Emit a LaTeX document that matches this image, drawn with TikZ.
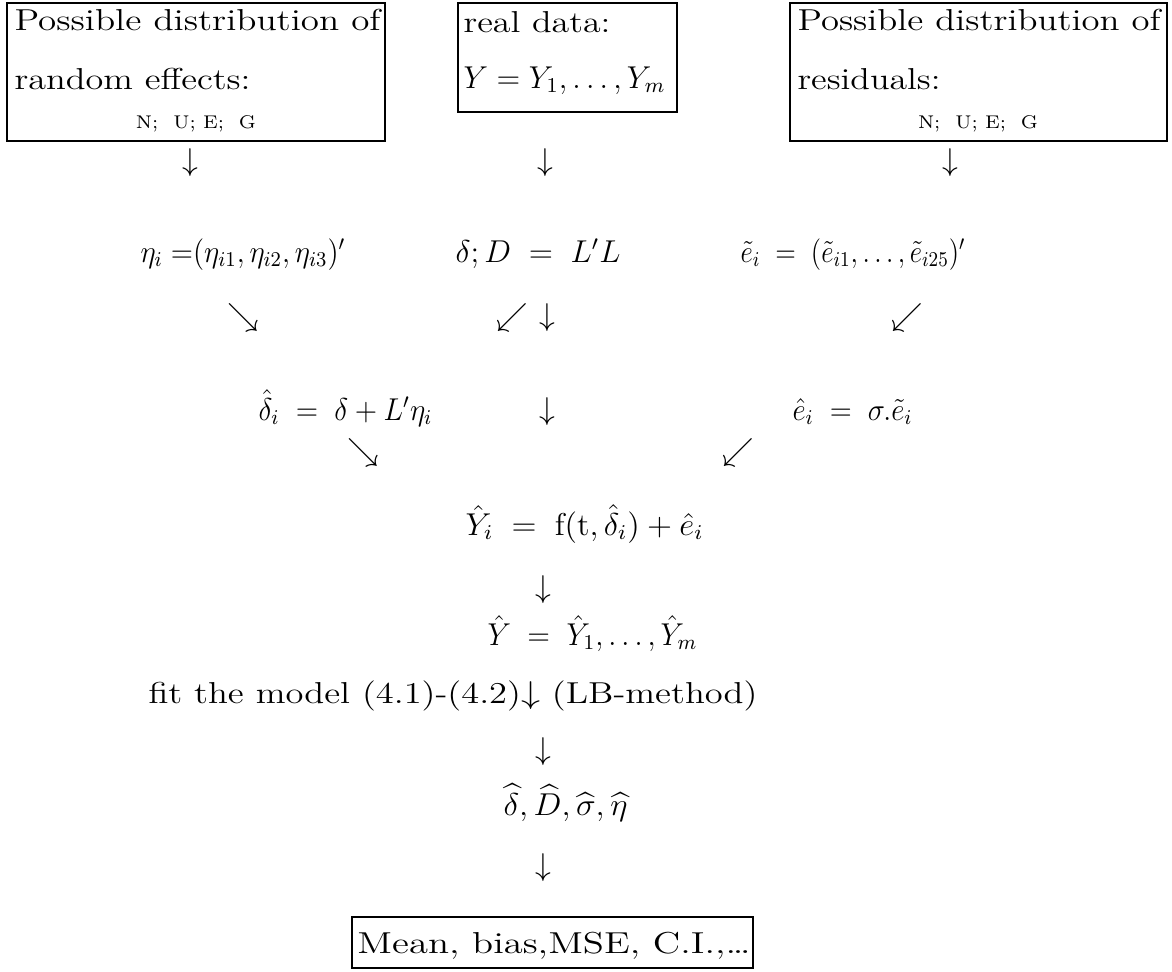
\documentclass[tikz,border=0pt]{standalone}
\usepackage{amsmath}
\usepackage{graphicx}
\newlength\pxu
\setlength\pxu{0.38pt}
\newcommand\rs[2]{\resizebox{#1\pxu}{\height}{#2}}
\begin{document}
\begin{tikzpicture}[x=0.38pt,y=-0.38pt,
  box/.style={draw,line width=0.6pt,inner sep=0pt},
  txt/.style={inner sep=0pt,anchor=base west,font=\fontsize{11.5}{13}\selectfont},
  ctxt/.style={inner sep=0pt,anchor=base,font=\fontsize{11.5}{13}\selectfont},
  small/.style={inner sep=0pt,anchor=base,font=\fontsize{7}{8}\selectfont},
  arr/.style={inner sep=0pt,anchor=center,font=\fontsize{12}{14}\selectfont}]
\useasboundingbox (0,0) rectangle (1172,971);
% boxes
\node[box,minimum width=378\pxu,minimum height=138\pxu] (b1) at (196,72) {};
\node[box,minimum width=219\pxu,minimum height=109\pxu] (b2) at (567.5,57.5) {};
\node[box,minimum width=377\pxu,minimum height=138\pxu] (b3) at (978.5,72) {};
\node[box,minimum width=401\pxu,minimum height=51\pxu] (b4) at (552.5,942.5) {};
% box texts
\node[txt] (t1a) at (14,30) {\rs{366}{Possible distribution of}};
\node[txt] (t1b) at (14,89) {\rs{236}{random effects:}};
\node[small] (t1c) at (196,128) {\rs{120}{N;\ \ U;\ E;\ \ G}};
\node[txt] (t2a) at (463,32) {\rs{147}{real data:}};
\node[txt] (t2b) at (463,88) {\rs{202}{$Y=Y_{1},\ldots,Y_{m}$}};
\node[txt] (t3a) at (797,30) {\rs{363}{Possible distribution of}};
\node[txt] (t3b) at (797,89) {\rs{143}{residuals:}};
\node[small] (t3c) at (978,128) {\rs{120}{N;\ \ U;\ E;\ \ G}};
% row 1 arrows
\node[arr] (a1) at (190,163) {$\downarrow$};
\node[arr] (a2) at (545,163) {$\downarrow$};
\node[arr] (a3) at (950,163) {$\downarrow$};
% row 2
\node[txt] (eta) at (140,262) {\rs{205}{$\eta_{i}\;{=}(\eta_{i1},\eta_{i2},\eta_{i3})^{\prime}$}};
\node[txt] (dD) at (455,262) {\rs{165}{$\delta;D\;=\;L'L$}};
\node[txt] (et) at (740,262) {\rs{225}{$\tilde{e}_{i}\;=\;(\tilde{e}_{i1},\ldots,\tilde{e}_{i25})^{\prime}$}};
% row 3 arrows
\node[arr] (a4) at (243,318) {$\searrow$};
\node[arr] (a5) at (512,318) {$\swarrow$};
\node[arr] (a6) at (547,318) {$\downarrow$};
\node[arr] (a7) at (907,318) {$\swarrow$};
% row 4
\node[txt] (dh) at (258,420) {\rs{174}{$\hat{\delta}_{i}\;=\;\delta+L'\eta_{i}$}};
\node[arr] (a8) at (547,412) {$\downarrow$};
\node[txt] (eh) at (792,420) {\rs{120}{$\hat{e}_{i}\;=\;\sigma.\tilde{e}_{i}$}};
% row 5 arrows
\node[arr] (a9) at (363,453) {$\searrow$};
\node[arr] (a10) at (738,453) {$\swarrow$};
% row 6
\node[txt] (Yi) at (465,535) {\rs{238}{$\hat{Y}_{i}\;=\;\mathrm{f}(\mathrm{t},\hat{\delta}_{i})+\hat{e}_{i}$}};
\node[arr] (a11) at (543,590) {$\downarrow$};
\node[txt] (Y) at (487,645) {\rs{210}{$\hat{Y}\;=\;\hat{Y}_{1},\ldots,\hat{Y}_{m}$}};
\node[txt] (fit) at (148,703) {\rs{609}{fit the model (4.1)-(4.2)$\downarrow$ (LB-method)}};
\node[arr] (a12) at (543,752) {$\downarrow$};
\node[txt] (est) at (503,815) {\rs{124}{$\widehat{\delta},\widehat{D},\widehat{\sigma},\widehat{\eta}$}};
\node[arr] (a13) at (543,868) {$\downarrow$};
\node[ctxt] (res) at (554,953) {\rs{393}{Mean, bias,MSE, C.I.,\ldots}};
\end{tikzpicture}
\end{document}
